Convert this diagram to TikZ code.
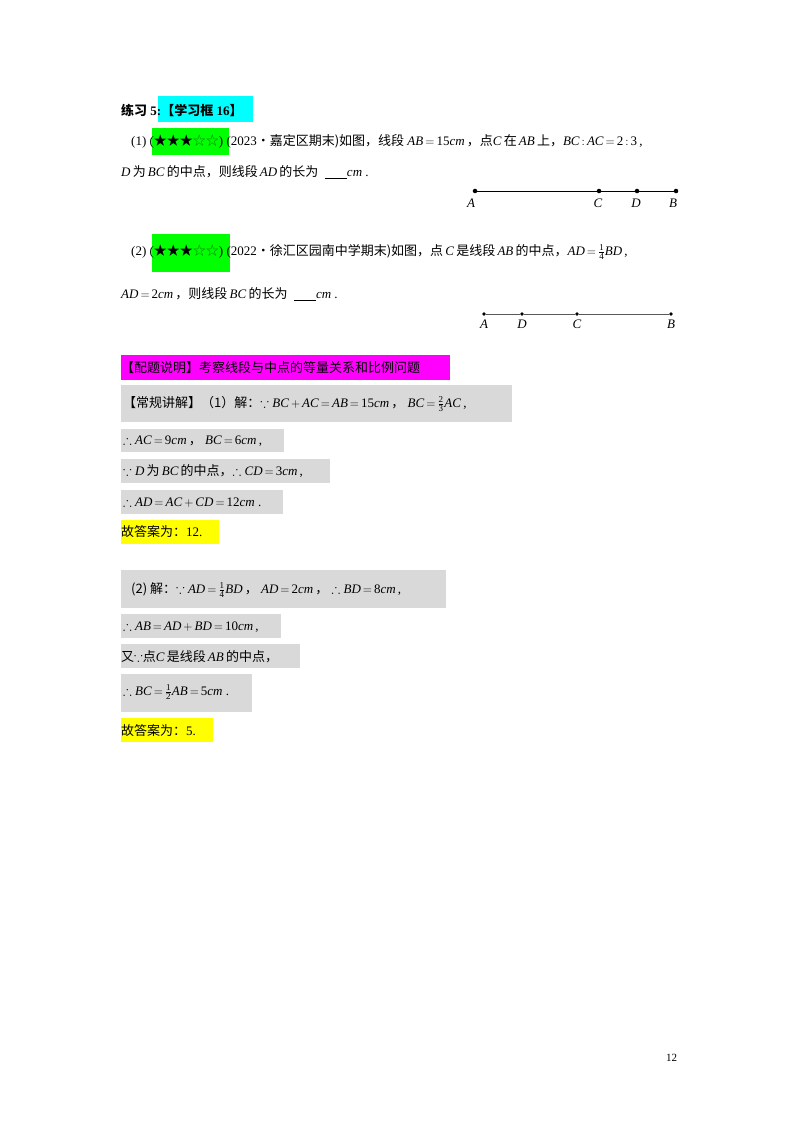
\documentclass[tikz,border=0pt]{standalone}
\usepackage{amsmath,amssymb}
\usepackage{fontspec}
\setmainfont{Liberation Serif}
\newfontfamily\cjk{Noto Sans CJK SC}
\newcommand{\zh}[1]{{\cjk #1}}
\newcommand{\mi}[1]{\textit{#1}}
\newcommand{\fr}[2]{$\genfrac{}{}{0.4pt}{}{\mbox{\small #1}}{\mbox{\small #2}}$}
\definecolor{hlcyan}{RGB}{0,255,255}
\definecolor{hlgreen}{RGB}{0,255,0}
\definecolor{hlmag}{RGB}{255,0,255}
\definecolor{hlgray}{RGB}{217,217,217}
\definecolor{hlyel}{RGB}{255,255,0}
\begin{document}
\begin{tikzpicture}[x=1pt,y=-1pt,
  t/.style={anchor=west,inner sep=0pt,font=\fontsize{13}{15}\selectfont},
  dot/.style={circle,fill,inner sep=1.6pt},
  lab/.style={font=\fontsize{13}{15}\selectfont\itshape,inner sep=0pt}]
\useasboundingbox (0,0) rectangle (800,1132);
\fill[hlcyan] (158,96) rectangle (253,122);
\fill[hlgreen] (152,128) rectangle (229,155);
\fill[hlgreen] (152,234) rectangle (230,272);
\fill[hlmag] (121,355) rectangle (450,380);
\fill[hlgray] (121,385) rectangle (512,422);
\fill[hlgray] (121,429) rectangle (284,452);
\fill[hlgray] (121,459) rectangle (330,483);
\fill[hlgray] (121,490) rectangle (283,514);
\fill[hlyel] (121,520) rectangle (219,544);
\fill[hlgray] (121,570) rectangle (446,608);
\fill[hlgray] (121,614) rectangle (281,638);
\fill[hlgray] (121,644) rectangle (300,668);
\fill[hlgray] (121,674) rectangle (252,712);
\fill[hlyel] (121,718) rectangle (213,742);
\node[t] (h) at (121,110) {\textbf{\zh{练习} 5:\zh{【学习框} 16\zh{】}}};
\node[t] (q1a) at (131,141) {(1) (\zh{★★★}{\color{green!50!black}\zh{☆☆}}) (2023\zh{•嘉定区期末)如图，线段} \mi{AB}$\,=\,$15\mi{cm}\,\zh{，点}\mi{C}\,\zh{在}\,\mi{AB}\,\zh{上，}\mi{BC}$\,:\,$\mi{AC}$\,=\,$2$\,:\,$3\,,};
\node[t] (q1b) at (121,172) {\mi{D}\,\zh{为}\,\mi{BC}\,\zh{的中点，则线段}\,\mi{AD}\,\zh{的长为}\ \ \underline{\hspace{22pt}}\mi{cm}\ .};
\node[t] (q2a) at (131,252) {(2) (\zh{★★★}{\color{green!50!black}\zh{☆☆}}) (2022\zh{•徐汇区园南中学期末)如图，点}\,\mi{C}\,\zh{是线段}\,\mi{AB}\,\zh{的中点，}\mi{AD}$\,=\,$\fr{1}{4}\mi{BD}\,,};
\node[t] (q2b) at (121,294) {\mi{AD}$\,=\,$2\mi{cm}\,\zh{，则线段}\,\mi{BC}\,\zh{的长为}\ \ \underline{\hspace{22pt}}\mi{cm}\ .};
\node[t] (m) at (121,368) {\zh{【配题说明】考察线段与中点的等量关系和比例问题}};
\node[t] (s1) at (123,404) {\zh{【常规讲解】（1）解：}$\because$ \mi{BC}$\,+\,$\mi{AC}$\,=\,$\mi{AB}$\,=\,$15\mi{cm}\,\zh{，}\ \mi{BC}$\,=\,$\fr{2}{3}\mi{AC}\,,};
\node[t] (s2) at (123,441) {$\therefore$ \mi{AC}$\,=\,$9\mi{cm}\,\zh{，}\ \mi{BC}$\,=\,$6\mi{cm}\,,};
\node[t] (s3) at (123,471) {$\because$ \mi{D}\,\zh{为}\,\mi{BC}\,\zh{的中点，}$\therefore$ \mi{CD}$\,=\,$3\mi{cm}\,,};
\node[t] (s4) at (123,502) {$\therefore$ \mi{AD}$\,=\,$\mi{AC}$\,+\,$\mi{CD}$\,=\,$12\mi{cm}\ .};
\node[t] (a1) at (121,532) {\zh{故答案为：}12.};
\node[t] (s5) at (131,590) {\zh{(2) 解：}$\because$ \mi{AD}$\,=\,$\fr{1}{4}\mi{BD}\,\zh{，}\ \mi{AD}$\,=\,$2\mi{cm}\,\zh{，}\ $\therefore$ \mi{BD}$\,=\,$8\mi{cm}\,,};
\node[t] (s6) at (123,627) {$\therefore$ \mi{AB}$\,=\,$\mi{AD}$\,+\,$\mi{BD}$\,=\,$10\mi{cm}\,,};
\node[t] (s7) at (121,657) {\zh{又}$\because$\zh{点}\mi{C}\,\zh{是线段}\,\mi{AB}\,\zh{的中点，}};
\node[t] (s8) at (123,692) {$\therefore$ \mi{BC}$\,=\,$\fr{1}{2}\mi{AB}$\,=\,$5\mi{cm}\ .};
\node[t] (a2) at (121,731) {\zh{故答案为：}5.};
\node[t] (pg) at (666,1058) {\fontsize{11}{13}\selectfont 12};
\node[dot] (A1) at (475,191) {};
\node[dot] (C1) at (599,191) {};
\node[dot] (D1) at (637,191) {};
\node[dot] (B1) at (676,191) {};
\draw[line width=1pt] (A1) -- (C1) -- (D1) -- (B1);
\node[lab] at (471,203) {A};
\node[lab] at (598,203) {C};
\node[lab] at (636,203) {D};
\node[lab] at (673,203) {B};
\node[dot,inner sep=1.3pt] (A2) at (484,314) {};
\node[dot,inner sep=1.3pt] (D2) at (522,314) {};
\node[dot,inner sep=1.3pt] (C2) at (577,314) {};
\node[dot,inner sep=1.3pt] (B2) at (671,314) {};
\draw[line width=0.8pt,gray!70!black] (A2) -- (D2) -- (C2) -- (B2);
\node[lab] at (484,324) {A};
\node[lab] at (522,324) {D};
\node[lab] at (577,324) {C};
\node[lab] at (671,324) {B};
\end{tikzpicture}
\end{document}
